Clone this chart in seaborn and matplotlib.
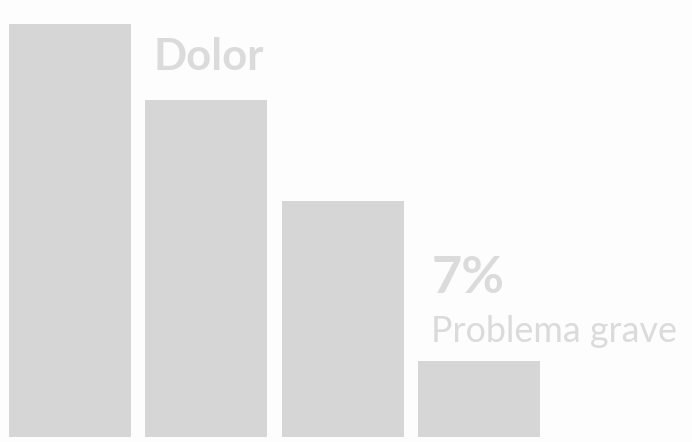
import matplotlib
matplotlib.use("Agg")
import matplotlib.pyplot as plt
import seaborn as sns
import pandas as pd

# Share of respondents per category (percent)
categories = ["A", "B", "C", "D"]
values = [38, 31, 21.7, 7]

headline = "Dolor"
highlight_value = values[3]
highlight_label = "Problema grave"

BAR = "#d6d6d6"
TEXT = "#dbdbdb"

sns.set_theme(style="white")
plt.rcParams["font.family"] = ["Lato", "DejaVu Sans"]

df = pd.DataFrame({"cat": categories, "val": values})

fig = plt.figure(figsize=(6.92, 4.42), dpi=100)
fig.patch.set_facecolor("#fdfdfd")
ax = fig.add_axes([0, 5 / 442, 1, 437 / 442])
ax.set_facecolor("none")

sns.barplot(data=df, x="cat", y="val", color=BAR, saturation=1,
            width=0.894, ax=ax, edgecolor="none")

ax.set_xlim(-0.513, 4.56)
ax.set_ylim(0, 40.22)
ax.axis("off")

ax.text(0.61, 33.8, headline, fontsize=31.4, fontweight="bold", color=TEXT,
        ha="left", va="baseline")
ax.text(2.65, 13.25, f"{highlight_value:g}%", fontsize=37.6, fontweight="bold",
        color=TEXT, ha="left", va="baseline")
ax.text(2.65, 8.74, highlight_label, fontsize=25.8, color=TEXT,
        ha="left", va="baseline")

fig.savefig("out.png", dpi=100, facecolor=fig.get_facecolor())
